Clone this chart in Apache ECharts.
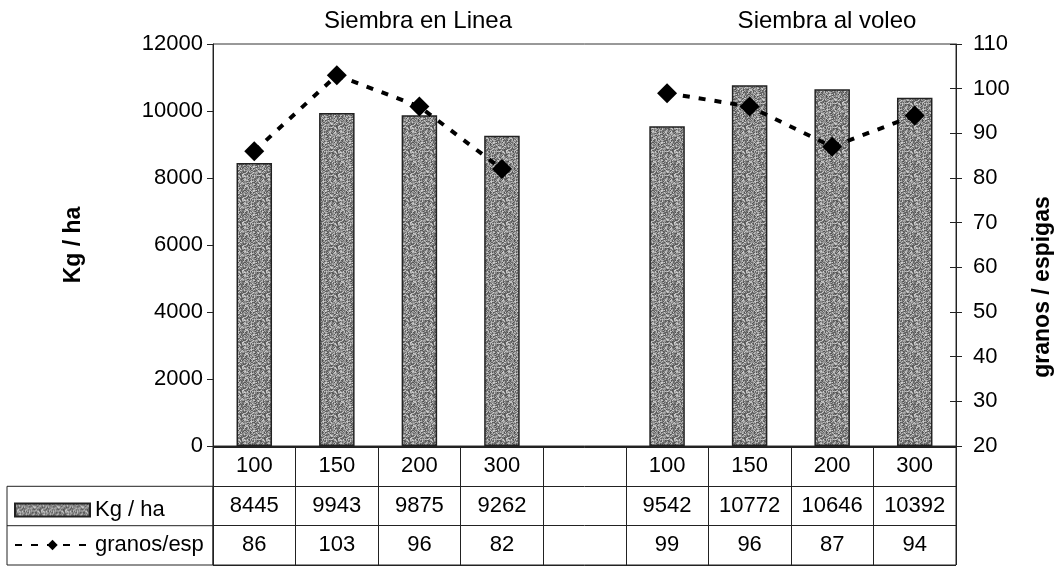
<!DOCTYPE html>
<html>
<head>
<meta charset="utf-8">
<script src="https://cdn.jsdelivr.net/npm/echarts@6/dist/echarts.min.js"></script>
<style>html,body{margin:0;padding:0;background:#fff;}#c{width:1056px;height:567px;}</style>
</head>
<body>
<div id="c"></div>
<script>
// ---- data ----
const categories = ['100', '150', '200', '300', '', '100', '150', '200', '300'];
const kgHa = [8445, 9943, 9875, 9262, null, 9542, 10772, 10646, 10392];
const granosEsp = [86, 103, 96, 82, null, 99, 96, 87, 94];
const groupTitles = ['Siembra en Linea', 'Siembra al voleo'];
const seriesNames = ['Kg / ha', 'granos/esp'];
const axisNames = ['Kg / ha', 'granos / espigas'];
const leftAxis = { min: 0, max: 12000, interval: 2000 };
const rightAxis = { min: 20, max: 110, interval: 10 };

// ---- style ----
const FONT = 'Liberation Sans, Arial, sans-serif';
const FS = 22;

function makePattern() {
  const c = document.createElement('canvas');
  c.width = 24; c.height = 24;
  const ctx = c.getContext('2d');
  for (let y = 0; y < 24; y++) {
    for (let x = 0; x < 24; x++) {
      const h = Math.abs(Math.sin(x * 12.9898 + y * 78.233) * 43758.5453) % 1;
      const g = Math.round(80 + h * 130);
      ctx.fillStyle = 'rgb(' + g + ',' + g + ',' + g + ')';
      ctx.fillRect(x, y, 1, 1);
    }
  }
  return { image: c, repeat: 'repeat' };
}
const barFill = makePattern();

const chart = echarts.init(document.getElementById('c'), null, { renderer: 'canvas' });

const tableRow1 = [];
const tableRow2 = [];
kgHa.forEach((v, i) => { if (v != null) tableRow1.push({ value: [i, 1.5], txt: String(v) }); });
granosEsp.forEach((v, i) => { if (v != null) tableRow2.push({ value: [i, 2.5], txt: String(v) }); });

const cellLabel = {
  show: true, position: 'inside', opacity: 1,
  fontFamily: FONT, fontSize: FS, color: '#000', textBorderWidth: 0,
  formatter: p => p.data.txt
};

chart.setOption({
  animation: false,
  backgroundColor: '#fff',
  textStyle: { fontFamily: FONT },
  title: [
    { text: groupTitles[0], left: 413, top: 4, textAlign: 'center',
      textStyle: { fontFamily: FONT, fontSize: 24, fontWeight: 'normal', color: '#000' } },
    { text: groupTitles[1], left: 822, top: 4, textAlign: 'center',
      textStyle: { fontFamily: FONT, fontSize: 24, fontWeight: 'normal', color: '#000' } }
  ],
  legend: {
    data: [{ name: seriesNames[0], icon: 'rect' }, { name: seriesNames[1] }],
    orient: 'vertical',
    left: 9, top: 494,
    itemWidth: 75, itemHeight: 13, itemGap: 13,
    textStyle: { fontFamily: FONT, fontSize: FS, color: '#000' }
  },
  grid: [
    { left: 213, right: 100, top: 44, bottom: 121, outerBoundsMode: 'none', containLabel: false,
      show: true, borderColor: '#333', borderWidth: 1, backgroundColor: 'transparent' },
    { left: 213, right: 100, top: 447, height: 118, outerBoundsMode: 'none', containLabel: false,
      show: true, borderColor: '#222', borderWidth: 1, backgroundColor: 'transparent' }
  ],
  xAxis: [
    { type: 'category', gridIndex: 0, data: categories, boundaryGap: true,
      axisLine: { show: true, lineStyle: { color: '#222' } }, axisTick: { show: false },
      axisLabel: { fontFamily: FONT, fontSize: FS, color: '#000', margin: 9, interval: 0 } },
    { type: 'category', gridIndex: 1, data: categories, boundaryGap: true, position: 'top',
      axisLine: { show: false }, axisTick: { show: false }, axisLabel: { show: false },
      splitLine: { show: true, interval: 0, lineStyle: { color: '#222', width: 1 } } }
  ],
  yAxis: [
    { type: 'value', gridIndex: 0, min: leftAxis.min, max: leftAxis.max, interval: leftAxis.interval,
      name: axisNames[0], nameLocation: 'middle', nameGap: 128, nameRotate: 90,
      nameTextStyle: { fontFamily: FONT, fontSize: 23, fontWeight: 'bold', color: '#000' },
      axisLine: { show: true, lineStyle: { color: '#222' } },
      axisTick: { show: true, length: 6, lineStyle: { color: '#222' } },
      axisLabel: { fontFamily: FONT, fontSize: FS, color: '#000', margin: 10, formatter: v => String(v) },
      splitLine: { show: false } },
    { type: 'value', gridIndex: 0, position: 'right', min: rightAxis.min, max: rightAxis.max, interval: rightAxis.interval,
      name: axisNames[1], nameLocation: 'middle', nameGap: 75, nameRotate: 90,
      nameTextStyle: { fontFamily: FONT, fontSize: 23, fontWeight: 'bold', color: '#000', padding: [0, 84, 0, 0] },
      axisLine: { show: true, lineStyle: { color: '#222' } },
      axisTick: { show: true, length: 6, lineStyle: { color: '#222' } },
      axisLabel: { fontFamily: FONT, fontSize: FS, color: '#000', margin: 17 },
      splitLine: { show: false } },
    { type: 'value', gridIndex: 0, position: 'right', min: rightAxis.min, max: rightAxis.max, interval: rightAxis.interval,
      axisLine: { show: false }, axisLabel: { show: false },
      axisTick: { show: true, inside: true, length: 6, lineStyle: { color: '#222' } },
      splitLine: { show: false } },
    { type: 'value', gridIndex: 1, min: 0, max: 3, interval: 1, inverse: true,
      axisLine: { show: false }, axisTick: { show: false }, axisLabel: { show: false },
      splitLine: { show: true, lineStyle: { color: '#222', width: 1 } } }
  ],
  series: [
    { name: seriesNames[0], type: 'bar', xAxisIndex: 0, yAxisIndex: 0, data: kgHa,
      barWidth: '43%',
      itemStyle: { color: barFill, borderColor: '#222', borderWidth: 1.5 } },
    { name: seriesNames[1], type: 'line', xAxisIndex: 0, yAxisIndex: 1, data: granosEsp,
      connectNulls: false, symbol: 'diamond', symbolSize: 20,
      lineStyle: { color: '#000', width: 4, type: [7, 9] },
      itemStyle: { color: '#000' }, z: 5 },
    { type: 'scatter', xAxisIndex: 1, yAxisIndex: 3, data: tableRow1, symbolSize: 0,
      itemStyle: { color: '#000', opacity: 1 }, label: cellLabel, silent: true },
    { type: 'scatter', xAxisIndex: 1, yAxisIndex: 3, data: tableRow2, symbolSize: 0,
      itemStyle: { color: '#000', opacity: 1 }, label: cellLabel, silent: true }
  ],
  graphic: [
    { type: 'rect', shape: { x: 7, y: 486.3, width: 206, height: 78.7 },
      style: { fill: 'none', stroke: '#222', lineWidth: 1 }, silent: true },
    { type: 'line', shape: { x1: 7, y1: 525.7, x2: 213, y2: 525.7 },
      style: { stroke: '#222', lineWidth: 1 }, silent: true }
  ]
});
</script>
</body>
</html>
